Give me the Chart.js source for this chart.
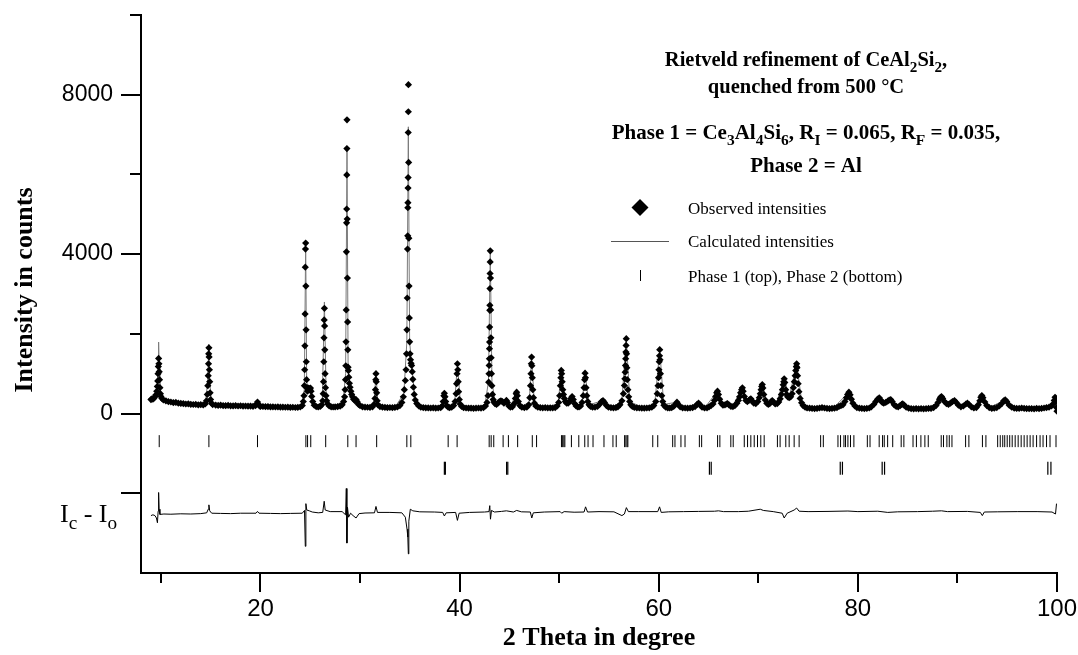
<!DOCTYPE html>
<html>
<head>
<meta charset="utf-8">
<title>Rietveld refinement of CeAl2Si2</title>
<script src="https://cdn.jsdelivr.net/npm/chart.js@4.4.0/dist/chart.umd.min.js"></script>
<style>
    html, body { margin: 0; padding: 0; background: #fff; }
    #wrap { width: 1078px; height: 655px; }
</style>
</head>
<body>
<div id="wrap"><canvas id="chart" width="1078" height="655"></canvas></div>
<script>
// Axis ticks
const xMajorTicks = [20, 40, 60, 80, 100];
const xMinorTicks = [10, 30, 50, 70, 90];
const yMajorTicks = [-2000, 0, 4000, 8000];
const yTickLabels = ['', '0', '4000', '8000'];
const yMinorTicks = [2000, 6000, 10000];

// Observed intensities [2theta, counts]
const observedIntensities = [
    [9.0,350],[9.1,370],[9.2,360],[9.3,390],[9.4,420],[9.5,470],[9.58,560],[9.64,680],[9.68,820],[9.71,1000],[9.74,1180],[9.77,1384],[9.8,1250],[9.83,1050],[9.86,850],[9.9,650],[9.95,500],[10.0,430],[10.1,380],[10.25,340],[10.5,320],
    [10.75,300],[11.0,290],[11.25,275],[11.5,280],[11.75,262],[12.0,255],[12.25,250],[12.5,240],[12.75,245],[13.0,232],[13.25,228],[13.5,230],[13.75,220],[14.0,222],[14.25,218],[14.45,240],[14.58,320],
    [14.66,480],[14.71,700],[14.75,950],[14.78,1250],[14.8,1500],[14.82,1650],[14.84,1420],[14.87,1100],[14.9,800],[14.94,520],[14.99,350],[15.08,260],[15.2,225],
    [15.5,212],[15.75,205],[16.0,210],[16.25,200],[16.5,198],[16.75,204],[17.0,195],[17.25,192],[17.5,198],[17.75,190],[18.0,196],[18.25,188],[18.5,190],[18.75,185],[19.0,188],[19.25,183],[19.5,200],[19.62,240],[19.7,290],[19.78,235],[19.9,195],
    [20.0,180],[20.25,178],[20.5,172],[20.75,175],[21.0,168],[21.25,170],[21.5,165],[21.75,168],[22.0,160],[22.25,163],[22.5,158],[22.75,160],[23.0,155],[23.25,158],[23.5,152],[23.75,156],[24.0,165],[24.2,200],
    [24.3,300],[24.37,450],[24.41,700],[24.44,1100],[24.46,1700],[24.48,2500],[24.5,3673],[24.52,4126],[24.54,4277],[24.56,3200],[24.58,2100],[24.6,1300],[24.63,850],[24.67,650],[24.72,560],[24.78,600],[24.84,640],[24.9,620],[24.96,600],[25.02,640],[25.08,560],[25.15,430],[25.25,300],[25.4,210],[25.6,175],[25.8,165],[26.0,180],[26.15,220],
    [26.25,320],[26.3,500],[26.33,800],[26.36,1300],[26.38,1900],[26.4,2350],[26.42,2640],[26.44,2200],[26.46,1600],[26.49,1000],[26.53,650],[26.58,450],[26.65,320],[26.75,240],[26.9,190],[27.1,170],[27.3,165],[27.5,168],[27.75,172],[28.0,185],[28.2,220],[28.35,300],[28.45,420],
    [28.5,600],[28.54,850],[28.57,1200],[28.59,1800],[28.61,2600],[28.63,4058],[28.65,4787],[28.66,5132],[28.67,5987],[28.68,6649],[28.69,7371],[28.71,4881],[28.73,3400],[28.75,2300],[28.77,1600],[28.8,1165],[28.83,1080],[28.87,913],[28.93,760],[29.0,660],[29.08,560],[29.16,480],[29.25,420],[29.35,360],[29.5,320],[29.6,350],[29.7,300],[29.85,230],
    [30.0,200],[30.25,170],[30.5,160],[30.75,158],[31.0,155],[31.25,170],[31.4,230],[31.5,380],[31.55,600],[31.58,850],[31.6,1000],[31.63,800],[31.67,520],[31.72,320],[31.8,220],[32.0,175],[32.25,160],[32.5,155],[32.75,150],[33.0,152],[33.25,148],[33.5,155],[33.75,165],[34.0,200],[34.2,280],[34.35,420],[34.45,600],[34.55,830],
    [34.62,1100],[34.67,1500],[34.71,2100],[34.74,2900],[34.77,4126],[34.79,4460],[34.8,5165],[34.81,5291],[34.82,5660],[34.83,5920],[34.84,7052],[34.85,7572],[34.86,8252],[34.88,6300],[34.9,4400],[34.92,3200],[34.95,2400],[34.98,1800],[35.02,1500],[35.07,1350],[35.12,1260],[35.18,1207],[35.24,1050],[35.3,860],[35.36,660],[35.44,480],[35.55,340],[35.7,250],[35.9,190],
    [36.1,160],[36.35,150],[36.6,145],[36.85,142],[37.1,140],[37.35,145],[37.6,138],[37.85,140],[38.1,150],[38.25,190],[38.35,300],[38.42,450],[38.47,510],[38.53,420],[38.6,300],[38.7,200],[38.85,160],[39.0,150],[39.2,160],[39.4,200],[39.55,300],
    [39.65,500],[39.7,750],[39.74,1000],[39.78,1250],[39.82,1100],[39.86,800],[39.9,550],[39.97,350],[40.05,240],[40.2,180],[40.4,150],[40.65,140],[40.9,135],[41.15,138],[41.4,132],[41.65,136],[41.9,140],[42.15,138],[42.4,150],[42.6,190],[42.75,280],[42.85,450],
    [42.92,787],[42.95,999],[42.97,1207],[42.99,1376],[43.0,1628],[43.01,1794],[43.02,2171],[43.03,2591],[43.04,2717],[43.05,3137],[43.06,3514],[43.07,3806],[43.08,4083],[43.1,3400],[43.12,2600],[43.14,1900],[43.17,1400],[43.2,1000],[43.24,700],[43.3,480],[43.37,350],[43.45,290],[43.55,250],[43.7,230],[43.85,260],
    [44.0,300],[44.15,320],[44.3,300],[44.45,260],[44.6,290],[44.7,330],[44.8,280],[44.95,190],[45.1,160],[45.3,170],[45.5,250],[45.6,380],[45.68,500],[45.73,536],[45.8,450],[45.9,300],[46.05,200],[46.25,160],[46.5,150],[46.75,160],[46.95,220],
    [47.05,400],[47.12,700],[47.17,1000],[47.2,1250],[47.23,1417],[47.26,1200],[47.3,900],[47.35,600],[47.42,400],[47.52,260],[47.65,190],[47.85,160],[48.1,150],[48.35,145],[48.6,148],[48.85,142],[49.1,145],[49.35,140],[49.6,150],[49.8,190],[49.95,280],
    [50.05,450],[50.12,700],[50.17,900],[50.21,1082],[50.25,1000],[50.3,800],[50.36,600],[50.43,480],[50.52,380],[50.62,300],[50.75,260],[50.9,260],[51.05,300],[51.18,380],[51.3,427],[51.42,350],[51.55,250],[51.7,190],[51.85,170],[52.0,165],[52.15,190],[52.3,280],
    [52.42,450],[52.5,650],[52.56,850],[52.6,1014],[52.64,900],[52.7,650],[52.77,450],[52.87,300],[53.0,220],[53.15,180],[53.35,160],[53.6,160],[53.85,180],[54.05,230],[54.25,300],[54.4,327],[54.55,280],[54.75,200],[54.95,160],[55.2,150],[55.45,145],[55.7,150],[55.9,170],
    [56.1,220],[56.3,320],[56.45,500],[56.55,704],[56.6,873],[56.63,1039],[56.66,1207],[56.68,1376],[56.7,1543],[56.72,1711],[56.74,1879],[56.77,1500],[56.8,1150],[56.84,850],[56.9,600],[56.98,420],[57.08,300],[57.2,220],[57.35,180],[57.55,155],[57.8,145],
    [58.05,140],[58.3,138],[58.55,135],[58.8,140],[59.05,145],[59.3,160],[59.5,200],[59.7,300],[59.85,500],[59.93,700],[59.98,900],[60.02,1100],[60.05,1300],[60.08,1450],[60.1,1602],[60.13,1350],[60.17,1000],[60.22,700],[60.3,450],[60.4,300],[60.52,210],[60.7,160],[60.9,145],
    [61.1,140],[61.3,150],[61.5,180],[61.7,240],[61.83,285],[61.97,230],[62.15,170],[62.4,145],[62.65,140],[62.9,135],[63.15,140],[63.4,150],[63.65,175],[63.85,230],[64.0,260],[64.15,220],[64.35,160],[64.6,140],[64.85,145],
    [65.05,170],[65.25,200],[65.45,240],[65.6,330],[65.72,430],[65.82,520],[65.9,561],[66.0,480],[66.12,360],[66.28,260],[66.45,210],[66.65,220],[66.8,240],[66.9,251],[67.05,220],[67.25,180],[67.45,175],[67.65,200],[67.85,260],
    [68.0,330],[68.12,420],[68.22,520],[68.32,600],[68.4,646],[68.48,560],[68.6,430],[68.75,330],[68.9,300],[69.05,330],[69.15,350],[69.25,369],[69.38,320],[69.55,260],[69.75,250],[69.95,300],
    [70.1,400],[70.2,500],[70.28,600],[70.34,680],[70.4,730],[70.46,640],[70.55,480],[70.7,340],[70.85,260],[71.0,230],[71.15,250],[71.3,300],[71.4,327],[71.52,290],[71.7,240],[71.9,250],
    [72.05,290],[72.2,370],[72.32,480],[72.42,600],[72.5,720],[72.56,800],[72.6,873],[72.66,780],[72.75,600],[72.85,480],[72.95,420],[73.1,400],[73.25,420],[73.4,500],[73.52,650],[73.62,800],[73.7,950],[73.76,1080],[73.82,1180],[73.85,1250],[73.89,1150],[73.94,950],
    [74.0,750],[74.08,550],[74.2,380],[74.35,270],[74.5,200],[74.7,160],[74.9,140],[75.15,135],[75.4,130],[75.65,125],[75.9,130],[76.15,140],[76.4,150],[76.65,140],[76.9,130],[77.15,125],[77.4,128],[77.65,135],[77.9,150],
    [78.1,180],[78.3,200],[78.5,220],[78.7,300],[78.85,400],[78.97,480],[79.1,536],[79.22,470],[79.35,360],[79.5,260],[79.7,190],[79.9,150],[80.15,135],[80.4,128],[80.65,125],[80.9,130],[81.15,140],[81.35,170],
    [81.6,230],[81.8,300],[81.98,360],[82.15,395],[82.3,340],[82.45,280],[82.6,260],[82.8,280],[83.0,310],[83.15,340],[83.3,352],[83.45,300],[83.65,220],[83.85,180],[84.05,170],[84.25,200],[84.4,230],[84.5,244],[84.65,210],[84.85,160],
    [85.1,135],[85.35,125],[85.6,120],[85.85,125],[86.1,118],[86.35,125],[86.6,120],[86.85,122],[87.1,128],[87.35,130],[87.6,150],[87.85,200],[88.05,280],[88.2,360],[88.3,410],[88.4,427],[88.52,380],[88.7,300],[88.9,250],
    [89.1,230],[89.3,260],[89.5,300],[89.7,327],[89.88,280],[90.1,210],[90.35,170],[90.6,190],[90.85,240],[91.0,260],[91.15,230],[91.4,170],[91.65,140],[91.9,150],[92.1,220],[92.25,320],[92.35,410],[92.45,453],[92.56,400],[92.75,290],[92.95,200],
    [93.2,150],[93.45,130],[93.7,135],[93.95,150],[94.2,190],[94.45,250],[94.65,320],[94.8,345],[94.95,300],[95.2,210],[95.45,160],[95.7,135],[95.95,130],[96.2,128],[96.45,140],[96.7,130],[96.95,125],
    [97.2,122],[97.45,125],[97.7,120],[97.95,128],[98.2,122],[98.45,130],[98.7,140],[98.95,150],[99.2,160],[99.45,190],[99.6,240],[99.72,330],[99.8,410],[99.88,300],[99.95,150],[100.0,60]
];

// Calculated intensities [2theta, counts]
const calculatedIntensities = [
    [9.0,350],[9.5,470],[9.65,700],[9.72,1200],[9.77,1794],[9.82,1150],[9.9,650],[10.1,380],[10.5,320],[11.5,275],[12.5,245],[13.5,228],[14.45,235],[14.7,800],[14.81,1740],[14.9,800],[15.1,250],[16,205],[18,192],[19.5,195],[19.7,290],[19.9,190],
    [22,162],[24.1,170],[24.4,600],[24.54,4300],[24.64,800],[24.8,610],[25.0,620],[25.2,380],[25.6,180],[26.2,260],[26.42,2800],[26.6,420],[27.2,170],[28.3,300],[28.55,1000],[28.69,6667],[28.8,1200],[29.0,660],[29.4,370],
    [30.2,175],[31.4,220],[31.6,1000],[31.8,220],[33.5,155],[34.4,500],[34.7,1800],[34.85,7195],[34.98,1800],[35.2,1200],[35.5,400],[36.2,160],[38.2,160],[38.47,510],[38.8,160],[39.5,250],[39.78,1260],
    [40.1,200],[42.5,160],[42.9,800],[43.08,4083],[43.25,800],[43.6,240],[44.15,320],[44.45,260],[44.7,330],[45.1,160],[45.73,536],[46.2,160],[47.0,300],[47.23,1420],[47.5,280],[48.5,145],[49.9,250],
    [50.21,1082],[50.6,310],[51.3,427],[51.8,170],[52.3,280],[52.6,1014],[53.0,220],[54.4,327],[55.3,148],[56.3,320],[56.74,1879],[57.1,300],[58.5,137],[59.6,250],
    [60.1,1602],[60.5,230],[61.83,285],[62.6,140],[64.0,260],[64.6,140],[65.9,561],[66.4,220],[66.9,251],[67.4,178],[68.4,646],[68.9,300],[69.25,369],[69.7,250],
    [70.4,730],[70.9,245],[71.4,327],[71.8,245],[72.6,873],[73.1,400],[73.85,1250],[74.4,230],[75.5,128],[77.5,130],[79.1,536],[79.8,145],
    [81.0,135],[82.15,395],[82.6,260],[83.3,352],[84.0,170],[84.5,244],[85.2,130],[87.5,140],[88.4,427],[89.1,230],[89.7,327],
    [90.4,175],[91.0,260],[91.6,140],[92.45,453],[93.2,150],[94.8,345],[95.6,140],[98.5,135],[99.5,200],[99.8,410],[100,60]
];

// Difference curve Ic - Io, shifted [2theta, counts]
const differenceCurve = [
    [9.0,-2560],[9.2,-2540],[9.4,-2560],[9.55,-2620],[9.65,-2740],[9.72,-2450],[9.77,-1980],[9.82,-2400],[9.9,-2530],[10.3,-2520],[11,-2525],[12,-2515],[13,-2520],[14,-2510],[14.6,-2490],[14.75,-2400],[14.82,-2290],[14.9,-2440],[15.1,-2500],
    [16,-2505],[17,-2510],[18,-2500],[19.55,-2500],[19.7,-2455],[19.85,-2500],[21,-2505],[22,-2510],[23,-2505],[24.2,-2500],[24.42,-2430],[24.5,-3330],[24.56,-2260],[24.65,-2420],[24.9,-2440],[25.2,-2470],[25.8,-2490],
    [26.25,-2480],[26.4,-2200],[26.5,-2420],[27,-2460],[28.2,-2460],[28.55,-2540],[28.62,-1880],[28.68,-3250],[28.74,-2350],[28.85,-2600],[29.05,-2500],[29.3,-2560],[29.6,-2620],[29.9,-2510],
    [30.5,-2495],[31.45,-2490],[31.6,-2330],[31.75,-2480],[33,-2480],[34.2,-2490],[34.55,-2600],[34.72,-2900],[34.8,-3100],[34.85,-3520],[34.9,-2700],[35.05,-2400],[35.3,-2440],[36,-2465],[37.5,-2470],
    [38.3,-2480],[38.47,-2570],[38.65,-2490],[39.6,-2480],[39.78,-2680],[39.95,-2500],[41,-2480],[42.5,-2470],[42.95,-2460],[43.03,-2310],[43.1,-2650],[43.2,-2430],[43.5,-2470],[44.2,-2455],[44.7,-2440],
    [45.4,-2470],[45.73,-2430],[46.2,-2465],[47.1,-2470],[47.25,-2620],[47.4,-2490],[48.5,-2470],[50.1,-2460],[50.25,-2500],[50.5,-2460],[51.5,-2475],[52.5,-2470],[52.65,-2340],[52.85,-2470],[54,-2460],
    [55.5,-2465],[56.3,-2560],[56.55,-2520],[56.75,-2360],[56.95,-2460],[58,-2460],[59.9,-2460],[60.08,-2340],[60.25,-2480],[61,-2465],[62.5,-2460],[64,-2455],[65.6,-2450],[66,-2440],[66.5,-2460],
    [68,-2460],[69,-2450],[70.2,-2400],[70.5,-2430],[71.5,-2460],[72.4,-2500],[72.6,-2620],[72.9,-2500],[73.6,-2420],[73.85,-2370],[74.1,-2450],[75,-2460],[77,-2455],[79,-2445],[80,-2460],
    [82,-2450],[83,-2480],[84,-2465],[86,-2460],[87.5,-2450],[88.4,-2440],[89,-2460],[91,-2455],[92.3,-2480],[92.5,-2560],[92.7,-2470],[94,-2465],[96,-2460],[98,-2460],[99.5,-2470],[99.85,-2520],[99.95,-2260]
];

// Bragg reflection positions (2theta)
const phase1Reflections = [
    9.83, 14.82, 19.7, 24.56, 24.73, 25.05, 26.55, 28.77, 29.6, 31.67, 34.7, 35.1, 38.85, 39.75,
    42.97, 43.17, 43.43, 44.37, 44.9, 45.83, 47.3, 47.73, 50.23, 50.35, 50.47, 50.57, 51.23, 51.97,
    52.57, 52.9, 53.4, 54.5, 55.4, 55.73, 56.57, 56.7, 56.82, 56.9, 59.4, 59.9, 61.4, 61.63, 62.23,
    62.64, 64.08, 64.31, 65.91, 66.14, 67.24, 67.48, 68.59, 68.92, 69.25, 69.59, 69.92, 70.25, 70.59,
    71.92, 72.19, 72.76, 73.1, 73.6, 74.1, 76.26, 76.53, 78.0, 78.26, 78.6, 78.76, 79.0, 79.26, 79.6,
    80.95, 81.22, 82.14, 82.48, 82.65, 82.99, 83.5, 84.35, 84.62, 85.54, 85.88, 86.33, 86.73, 87.07,
    88.37, 88.6, 88.94, 89.18, 89.45, 90.82, 91.15, 92.51, 92.86, 94.04, 94.3, 94.55, 94.75, 95.0,
    95.25, 95.5, 95.8, 96.1, 96.4, 96.7, 97.0, 97.3, 97.6, 97.95, 98.3, 98.6, 98.95, 99.3, 99.9
];
const phase2Reflections = [38.47, 38.57, 44.72, 44.84, 65.09, 65.27, 78.23, 78.45, 82.44, 82.68, 99.08, 99.39];
const phase1Row = -692;
const phase2Row = -1371;

const toPoints = arr => arr.map(p => ({ x: p[0], y: p[1] }));
const serif = '"Liberation Serif", "Times New Roman", serif';
const sans = '"Liberation Sans", Arial, sans-serif';

// Draw text made of normal and subscript parts
function drawRich(ctx, parts, x, y, size, bold, align) {
    const weight = bold ? 'bold ' : '';
    const subSize = size * 0.74;
    let total = 0;
    parts.forEach(p => {
        ctx.font = weight + (p[1] ? subSize : size) + 'px ' + serif;
        total += ctx.measureText(p[0]).width;
    });
    let cx = align === 'center' ? x - total / 2 : x;
    ctx.textAlign = 'left';
    ctx.textBaseline = 'alphabetic';
    parts.forEach(p => {
        ctx.font = weight + (p[1] ? subSize : size) + 'px ' + serif;
        ctx.fillText(p[0], cx, y + (p[1] ? size * 0.28 : 0));
        cx += ctx.measureText(p[0]).width;
    });
}

// Minor ticks, axis titles, annotation block
const decorations = {
    id: 'decorations',
    afterDraw(chart) {
        const ctx = chart.ctx;
        const xs = chart.scales.x;
        const ys = chart.scales.y;
        const area = chart.chartArea;
        ctx.save();
        ctx.strokeStyle = '#000';
        ctx.lineWidth = 2;
        xMinorTicks.forEach(v => {
            const px = Math.round(xs.getPixelForValue(v));
            ctx.beginPath();
            ctx.moveTo(px, area.bottom);
            ctx.lineTo(px, area.bottom + 10);
            ctx.stroke();
        });
        yMinorTicks.forEach(v => {
            const py = Math.round(ys.getPixelForValue(v));
            ctx.beginPath();
            ctx.moveTo(area.left - 11, py);
            ctx.lineTo(area.left, py);
            ctx.stroke();
        });

        ctx.fillStyle = '#000';
        // Axis titles
        ctx.font = 'bold 26px ' + serif;
        ctx.textAlign = 'center';
        ctx.textBaseline = 'middle';
        ctx.fillText('2 Theta in degree', 599, 638);
        ctx.save();
        ctx.translate(25, 290);
        ctx.rotate(-Math.PI / 2);
        ctx.fillText('Intensity in counts', 0, 0);
        ctx.restore();

        // Difference label
        drawRich(ctx, [['I', 0], ['c', 1], [' - I', 0], ['o', 1]], 60, 522, 26, false, 'left');

        // Annotation block
        drawRich(ctx, [['Rietveld refinement of CeAl', 0], ['2', 1], ['Si', 0], ['2', 1], [',', 0]], 806, 66, 20.5, true, 'center');
        drawRich(ctx, [['quenched from 500 \u00B0C', 0]], 806, 93, 20.5, true, 'center');
        drawRich(ctx, [['Phase 1 = Ce', 0], ['3', 1], ['Al', 0], ['4', 1], ['Si', 0], ['6', 1], [', R', 0], ['I', 1],
            [' = 0.065, R', 0], ['F', 1], [' = 0.035,', 0]], 806, 139, 21, true, 'center');
        drawRich(ctx, [['Phase 2 = Al', 0]], 806, 172, 21, true, 'center');

        // Legend
        ctx.beginPath();
        ctx.moveTo(640, 199); ctx.lineTo(648.5, 207.5); ctx.lineTo(640, 216); ctx.lineTo(631.5, 207.5);
        ctx.closePath();
        ctx.fill();
        ctx.strokeStyle = '#555';
        ctx.lineWidth = 1;
        ctx.beginPath();
        ctx.moveTo(611, 241.5); ctx.lineTo(669, 241.5);
        ctx.stroke();
        ctx.strokeStyle = '#000';
        ctx.beginPath();
        ctx.moveTo(640.5, 270); ctx.lineTo(640.5, 281);
        ctx.stroke();
        drawRich(ctx, [['Observed intensities', 0]], 688, 214, 17, false, 'left');
        drawRich(ctx, [['Calculated intensities', 0]], 688, 247, 17, false, 'left');
        drawRich(ctx, [['Phase 1 (top), Phase 2 (bottom)', 0]], 688, 282, 17, false, 'left');
        ctx.restore();
    }
};

new Chart(document.getElementById('chart'), {
    type: 'scatter',
    data: {
        datasets: [{
            label: 'Observed intensities',
            data: toPoints(observedIntensities),
            pointStyle: 'rectRot',
            pointRadius: 3.6,
            pointBorderWidth: 0,
            backgroundColor: '#000',
            borderColor: '#000'
        }, {
            label: 'Calculated intensities',
            data: toPoints(calculatedIntensities),
            showLine: true,
            pointRadius: 0,
            borderColor: '#7a7a7a',
            borderWidth: 1
        }, {
            label: 'Phase 1',
            data: phase1Reflections.map(x => ({ x: x, y: phase1Row })),
            pointStyle: 'line',
            rotation: 90,
            pointRadius: 6,
            borderColor: '#000',
            borderWidth: 1
        }, {
            label: 'Phase 2',
            data: phase2Reflections.map(x => ({ x: x, y: phase2Row })),
            pointStyle: 'line',
            rotation: 90,
            pointRadius: 6.5,
            borderColor: '#000',
            borderWidth: 1.2
        }, {
            label: 'Ic - Io',
            data: toPoints(differenceCurve),
            showLine: true,
            pointRadius: 0,
            borderColor: '#000',
            borderWidth: 1
        }]
    },
    options: {
        responsive: false,
        animation: false,
        layout: { padding: { left: 0, top: 15, right: 21, bottom: 0 } },
        plugins: {
            legend: { display: false },
            tooltip: { enabled: false },
            title: { display: false }
        },
        scales: {
            x: {
                type: 'linear',
                min: 8,
                max: 100,
                afterBuildTicks: scale => { scale.ticks = xMajorTicks.map(v => ({ value: v })); },
                afterFit: scale => { scale.height = 82; scale.paddingLeft = 0; scale.paddingRight = 0; },
                border: { display: true, color: '#000', width: 2 },
                grid: { drawOnChartArea: false, drawTicks: true, tickLength: 19, color: '#000', lineWidth: 2 },
                ticks: { color: '#000', padding: 3, maxRotation: 0, font: { family: sans, size: 24 } }
            },
            y: {
                type: 'linear',
                min: -4000,
                max: 10000,
                afterBuildTicks: scale => { scale.ticks = yMajorTicks.map(v => ({ value: v })); },
                afterFit: scale => { scale.width = 141; scale.paddingTop = 0; scale.paddingBottom = 0; },
                border: { display: true, color: '#000', width: 2 },
                grid: { drawOnChartArea: false, drawTicks: true, tickLength: 20, color: '#000', lineWidth: 2 },
                ticks: {
                    color: '#000',
                    padding: 8,
                    font: { family: sans, size: 23 },
                    callback: (value, index) => yTickLabels[index]
                }
            }
        }
    },
    plugins: [decorations]
});
</script>
</body>
</html>
